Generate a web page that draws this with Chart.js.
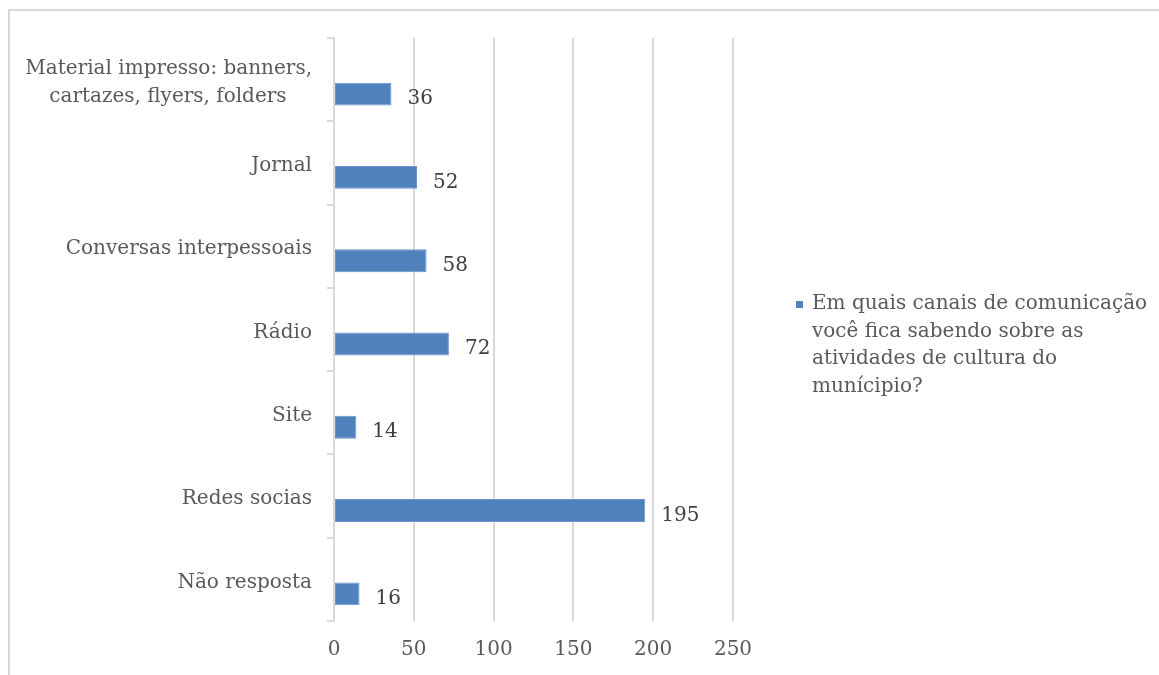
<!doctype html>
<html>
  <head>
    <meta charset="utf-8" />
    <title>Canais de comunicação</title>
    <script src="https://cdn.jsdelivr.net/npm/chart.js@4/dist/chart.umd.min.js"></script>
    <style>
      body { margin: 0; background: #fff; }
      #moldura {
        position: absolute; left: 8px; top: 9px; width: 1200px; height: 720px;
        border: 2px solid #d9d9d9; box-sizing: border-box;
      }
      #caixa { position: absolute; left: 0; top: 0; width: 1159px; height: 675px; }
      #legenda {
        position: absolute; left: 796px; top: 289px; width: 360px;
        font-family: "DejaVu Serif", serif; font-size: 20px; line-height: 27.5px;
        color: #595959; display: flex; align-items: flex-start;
      }
      #legenda .marca {
        width: 7px; height: 7px; background: #4f81bd; margin-top: 12px; margin-right: 9px; flex: none;
      }
    </style>
    <script>
      const categorias = [
        ["Material impresso: banners,", "cartazes, flyers, folders\u00a0\u00a0\u00a0\u00a0"],
        "Jornal",
        "Conversas interpessoais",
        "Rádio",
        "Site",
        "Redes socias",
        "Não resposta",
      ];
      const valores = [36, 52, 58, 72, 14, 195, 16];
      const vazio = [null, null, null, null, null, null, null];
      const ticksX = [0, 50, 100, 150, 200, 250];
      const linhasLegenda = [
        "Em quais canais de comunicação",
        "você fica sabendo sobre as",
        "atividades de cultura do",
        "munícipio?",
      ];
      const nomeSerie = linhasLegenda.join(" ");

      const fonte = "'DejaVu Serif', serif";

      // escreve o valor ao lado de cada barra
      const rotulos = {
        id: "rotulos",
        afterDatasetsDraw(chart) {
          const ctx = chart.ctx;
          const meta = chart.getDatasetMeta(1);
          ctx.save();
          ctx.font = "20px " + fonte;
          ctx.fillStyle = "#404040";
          ctx.textAlign = "left";
          ctx.textBaseline = "middle";
          meta.data.forEach((barra, i) => {
            ctx.fillText(String(valores[i]), barra.x + 16, barra.y + 5);
          });
          ctx.restore();
        },
      };

      document.addEventListener("DOMContentLoaded", iniciar);

      function iniciar() {
        const leg = document.getElementById("textoLegenda");
        linhasLegenda.forEach((l, i) => {
          if (i > 0) leg.appendChild(document.createElement("br"));
          leg.appendChild(document.createTextNode(l));
        });
        const canvas = document.getElementById("grafico");
        new Chart(canvas, {
          type: "bar",
          data: {
            labels: categorias,
            datasets: [
              { label: "", data: vazio },
              {
                label: nomeSerie,
                data: valores,
                backgroundColor: "#4f81bd",
                borderColor: "#6a96cc",
                borderWidth: 1,
                borderSkipped: false,
              },
            ],
          },
          options: {
            indexAxis: "y",
            responsive: true,
            maintainAspectRatio: false,
            animation: false,
            categoryPercentage: 0.696,
            barPercentage: 0.79,
            layout: { padding: { top: 38, right: 426, left: 0, bottom: 0 } },
            plugins: { legend: { display: false }, tooltip: { enabled: false } },
            scales: {
              x: {
                min: 0,
                max: 250,
                afterBuildTicks: (s) => { s.ticks = ticksX.map((v) => ({ value: v })); },
                afterFit: (s) => { s.height = 54; },
                grid: { color: "#d9d9d9", lineWidth: 2, drawTicks: false },
                border: { display: false },
                ticks: { color: "#595959", font: { family: fonte, size: 20 }, padding: 17 },
              },
              y: {
                afterFit: (s) => { s.width = 334; },
                grid: { drawOnChartArea: false, color: "#d9d9d9", lineWidth: 2, tickLength: 7 },
                border: { color: "#d9d9d9", width: 2 },
                ticks: {
                  color: "#595959",
                  font: { family: fonte, size: 20, lineHeight: 1.4 },
                  padding: 15,
                  labelOffset: 3,
                },
              },
            },
          },
          plugins: [rotulos],
        });
      }
    </script>
  </head>
  <body>
    <div id="moldura"></div>
    <div id="caixa"><canvas id="grafico"></canvas></div>
    <div id="legenda"><span class="marca"></span><span id="textoLegenda"></span></div>
  </body>
</html>
